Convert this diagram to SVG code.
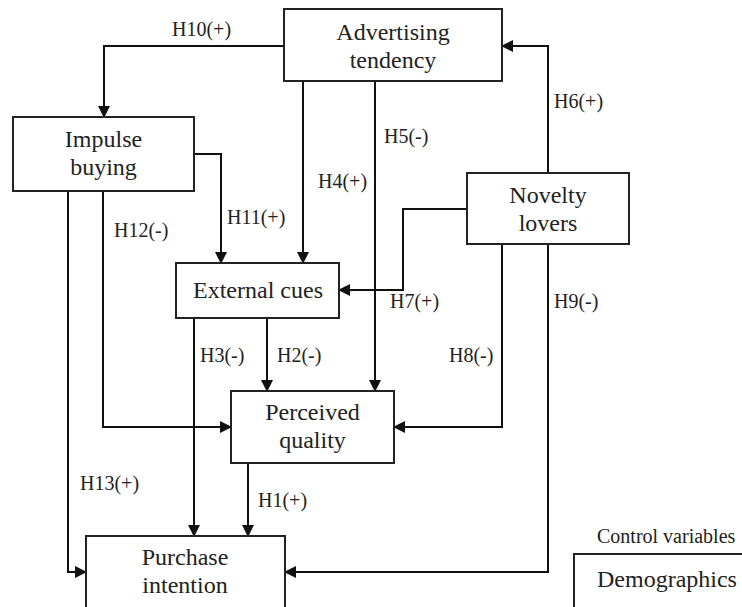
<svg xmlns="http://www.w3.org/2000/svg" width="742" height="607" viewBox="0 0 742 607">
<style>
.box{fill:#fff;stroke:#222;stroke-width:2}
.t{font-family:"Liberation Serif","Times New Roman",serif;font-size:24px;fill:#222;text-anchor:middle}
.lbl{font-family:"Liberation Serif","Times New Roman",serif;font-size:20px;fill:#222}
.c{fill:none;stroke:#111;stroke-width:2}
</style>
<defs>
<marker id="arr" markerUnits="userSpaceOnUse" markerWidth="12" markerHeight="12" refX="11" refY="6" orient="auto">
<path d="M0,0 L12,6 L0,12 z" fill="#111"/>
</marker>
</defs>
<rect width="742" height="607" fill="#fff"/>
<g id="connectors">
<path class="c" d="M284,46 H104 V117" marker-end="url(#arr)"/>
<path class="c" d="M194,154 H221 V263" marker-end="url(#arr)"/>
<path class="c" d="M303,81 V263" marker-end="url(#arr)"/>
<path class="c" d="M375,81 V391" marker-end="url(#arr)"/>
<path class="c" d="M548,173 V46 H502" marker-end="url(#arr)"/>
<path class="c" d="M467,209 H403 V290 H339" marker-end="url(#arr)"/>
<path class="c" d="M502,244 V427 H394" marker-end="url(#arr)"/>
<path class="c" d="M548,244 V572 H285" marker-end="url(#arr)"/>
<path class="c" d="M103,191 V427 H231" marker-end="url(#arr)"/>
<path class="c" d="M68,191 V572 H86" marker-end="url(#arr)"/>
<path class="c" d="M267,318 V391" marker-end="url(#arr)"/>
<path class="c" d="M194,318 V536" marker-end="url(#arr)"/>
<path class="c" d="M248,463 V536" marker-end="url(#arr)"/>
<text class="lbl" x="172" y="36">H10(+)</text>
<text class="lbl" x="554" y="108">H6(+)</text>
<text class="lbl" x="384" y="143">H5(-)</text>
<text class="lbl" x="318" y="188">H4(+)</text>
<text class="lbl" x="227" y="224">H11(+)</text>
<text class="lbl" x="114" y="237">H12(-)</text>
<text class="lbl" x="390" y="308">H7(+)</text>
<text class="lbl" x="554" y="308">H9(-)</text>
<text class="lbl" x="449" y="362">H8(-)</text>
<text class="lbl" x="200" y="362">H3(-)</text>
<text class="lbl" x="277" y="362">H2(-)</text>
<text class="lbl" x="80" y="490">H13(+)</text>
<text class="lbl" x="258" y="507">H1(+)</text>
</g>
<g id="advertising-tendency">
<rect class="box" x="284" y="9" width="218" height="72"/>
<text class="t" x="393" y="40">Advertising</text>
<text class="t" x="393" y="68">tendency</text>
</g>
<g id="impulse-buying">
<rect class="box" x="13" y="117" width="181" height="74"/>
<text class="t" x="103.5" y="147">Impulse</text>
<text class="t" x="103.5" y="175">buying</text>
</g>
<g id="novelty-lovers">
<rect class="box" x="467" y="173" width="162" height="71"/>
<text class="t" x="548" y="203">Novelty</text>
<text class="t" x="548" y="231">lovers</text>
</g>
<g id="external-cues">
<rect class="box" x="176" y="263" width="163" height="55"/>
<text class="t" x="258" y="298">External cues</text>
</g>
<g id="perceived-quality">
<rect class="box" x="231" y="391" width="163" height="72"/>
<text class="t" x="312.5" y="420">Perceived</text>
<text class="t" x="312.5" y="448">quality</text>
</g>
<g id="purchase-intention">
<rect class="box" x="86" y="536" width="199" height="90"/>
<text class="t" x="185" y="565">Purchase</text>
<text class="t" x="185" y="593">intention</text>
</g>
<g id="demographics">
<text class="lbl" x="597" y="543">Control variables</text>
<rect class="box" x="574" y="554" width="200" height="80"/>
<text class="t" x="597" y="587" style="text-anchor:start">Demographics</text>
</g>
</svg>
